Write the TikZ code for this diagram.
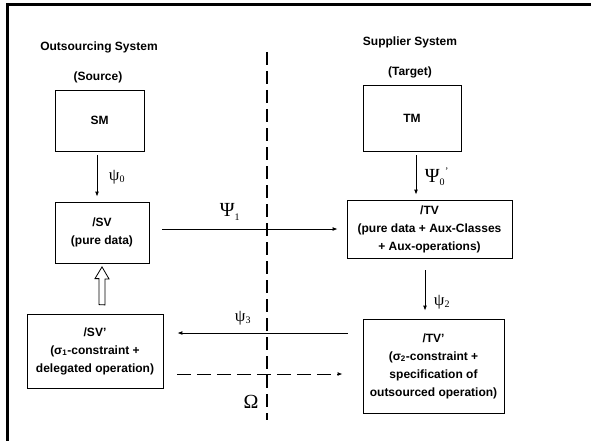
\documentclass[tikz,border=0pt]{standalone}
\usepackage{fontspec}
\setmainfont{Liberation Sans}
\newfontfamily\greekfont{Liberation Serif}
\usetikzlibrary{arrows.meta}

\tikzset{
  sysbox/.style={draw, line width=0.8pt, fill=white, align=center, inner sep=0pt,
    font=\bfseries\fontsize{12}{18}\selectfont},
  flow/.style={line width=0.9pt, -{Latex[length=5pt,width=4pt]}},
  dflow/.style={line width=1pt, dash pattern=on 14pt off 6pt, -{Latex[length=5pt,width=4pt]}},
  head/.style={font=\bfseries\fontsize{12}{14}\selectfont},
  maplabel/.style={font=\greekfont\fontsize{17}{17}\selectfont, inner sep=0pt},
  biglabel/.style={font=\greekfont\fontsize{20}{20}\selectfont, inner sep=0pt}
}
\newcommand{\lowidx}[1]{\textsubscript{\fontsize{10}{10}\selectfont #1}}

\begin{document}
\begin{tikzpicture}[x=1pt, y=-1pt]

  \useasboundingbox (0,0) rectangle (591,441);

  % --- Frame: only its top and left edges show ---
  \draw[line width=3pt] (7.5,441) -- (7.5,4.5) -- (591,4.5);

  % --- Column headings ---
  \node[head] (srcname) at (99,47) {Outsourcing System};
  \node[head] (srcrole) at (98,77) {(Source)};
  \node[head] (tgtname) at (410,42) {Supplier System};
  \node[head] (tgtrole) at (410,72) {(Target)};

  % --- Models and views ---
  \node[sysbox, minimum width=89pt, minimum height=61pt] (SM) at (99.5,120.5) {SM};
  \node[sysbox, minimum width=94pt, minimum height=61pt] (SV) at (102,232.5) {/SV\\(pure data)};
  \node[sysbox, minimum width=136pt, minimum height=74pt] (SVp) at (95,351)
    {/SV'\\(σ\textsubscript{1}-constraint +\\delegated operation)};
  \node[sysbox, minimum width=98pt, minimum height=66pt] (TM) at (412,118) {TM};
  \node[sysbox, minimum width=165pt, minimum height=58pt] (TV) at (429.5,229)
    {/TV\\(pure data + Aux-Classes\\+ Aux-operations)};
  \node[sysbox, minimum width=141pt, minimum height=94pt] (TVp) at (433.5,366)
    {/TV'\\(σ\textsubscript{2}-constraint +\\specification of\\outsourced operation)};

  % --- Border between the two systems ---
  \coordinate (borderTop) at (267,52);
  \coordinate (borderBot) at (267,420);
  \draw[line width=1.5pt, dash pattern=on 13pt off 6pt] (borderTop) -- (borderBot);

  % --- Mappings ---
  \draw[flow, shorten <=4pt, shorten >=5pt] ([xshift=-2.5pt]SM.south) -- ([xshift=-2.5pt]SM.south |- SV.north);
  \draw[flow, shorten <=4pt, shorten >=5pt] ([xshift=4pt]TM.south) -- ([xshift=4pt]TM.south |- TV.north);
  \draw[flow, shorten <=12pt, shorten >=8pt] ([xshift=-4.5pt]TV.south) -- ([xshift=-4.5pt]TV.south |- TVp.north);
  \draw[flow] ([xshift=13pt]SV.east |- TV.west) -- ([xshift=-9pt]TV.west);
  \draw[flow] ([xshift=-15pt,yshift=33pt]TVp.west) -- ([xshift=14pt,yshift=18pt]SVp.east);
  \draw[dflow] ([xshift=14pt,yshift=-23pt]SVp.east) -- ([xshift=-20pt,yshift=-8pt]TVp.west);

  % --- Hollow arrow from /SV' up to /SV ---
  \coordinate (hollowTip) at ([yshift=-3.5pt]SV.south);
  \coordinate (hollowBase) at ([xshift=7pt,yshift=9pt]SVp.north);
  \draw[line width=0.8pt, fill=white]
    (hollowBase) ++(-3,0) -- ++(0,-26) -- ++(-4,0) -- (hollowTip)
    -- ++(7,12) -- ++(-4,0) -- ++(0,26) -- cycle;

  % --- Mapping labels ---
  \node[maplabel] (psi0) at (117,177) {ψ\lowidx{0}};
  \node[biglabel] (Psi1) at (230,212) {Ψ\lowidx{1}};
  \node[maplabel] (psi3) at (243,318) {ψ\lowidx{3}};
  \node[biglabel] (Psi0p) at (437,177) {Ψ\lowidx{0}\textsuperscript{\fontsize{10}{10}\selectfont ’}};
  \node[maplabel] (psi2) at (442,302) {ψ\lowidx{2}};
  \node[biglabel] (omega) at (251,402) {Ω};

\end{tikzpicture}
\end{document}
